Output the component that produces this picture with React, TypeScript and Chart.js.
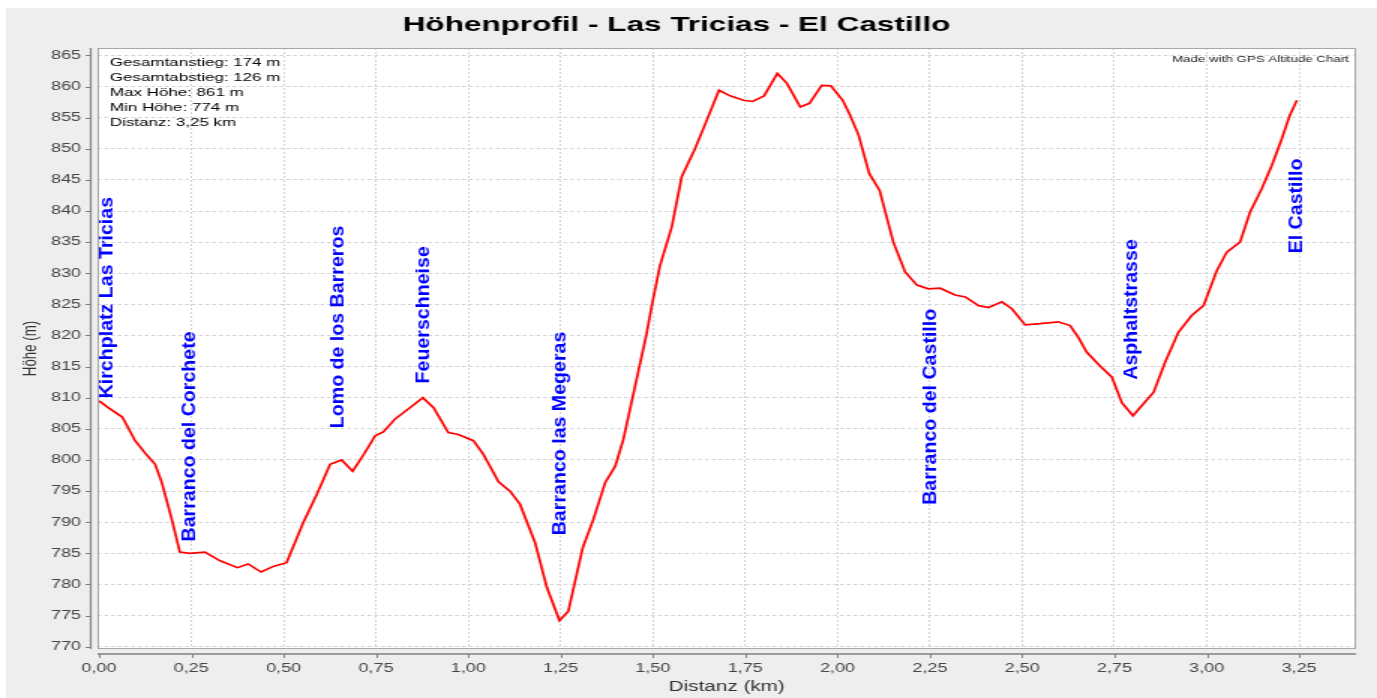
import React, { useEffect, useRef } from 'react';
import { Chart, registerables } from 'chart.js';

Chart.register(...registerables);

// ---------- data ----------
const distancesKm = [
  0.000, 0.025, 0.063, 0.098, 0.125, 0.152, 0.170, 0.197, 0.219, 0.246,
  0.287, 0.328, 0.375, 0.404, 0.439, 0.472, 0.508, 0.553, 0.590, 0.626,
  0.657, 0.687, 0.716, 0.748, 0.770, 0.802, 0.842, 0.877, 0.906, 0.946,
  0.973, 1.014, 1.041, 1.082, 1.113, 1.140, 1.181, 1.213, 1.247, 1.271,
  1.310, 1.339, 1.371, 1.398, 1.420, 1.456, 1.482, 1.497, 1.519, 1.551,
  1.578, 1.614, 1.646, 1.679, 1.709, 1.745, 1.770, 1.801, 1.837, 1.863,
  1.899, 1.924, 1.957, 1.982, 2.014, 2.034, 2.057, 2.086, 2.114, 2.151,
  2.183, 2.215, 2.246, 2.278, 2.318, 2.346, 2.382, 2.409, 2.445, 2.472,
  2.508, 2.549, 2.598, 2.630, 2.652, 2.675, 2.711, 2.743, 2.770, 2.800,
  2.856, 2.887, 2.923, 2.959, 2.991, 3.027, 3.054, 3.090, 3.117, 3.149,
  3.176, 3.203, 3.225, 3.244,
];

const altitudesM = [
  809.5, 808.4, 806.9, 803.1, 801.1, 799.3, 796.4, 790.5, 785.2, 785.0,
  785.2, 783.8, 782.7, 783.3, 782.0, 782.9, 783.5, 789.9, 794.5, 799.3,
  800.0, 798.2, 800.8, 803.9, 804.5, 806.6, 808.4, 810.0, 808.4, 804.4,
  804.1, 803.1, 800.9, 796.5, 795.0, 792.9, 786.7, 779.5, 774.2, 775.7,
  785.9, 790.5, 796.4, 799.0, 803.3, 813.0, 820.0, 824.8, 831.2, 837.4,
  845.5, 850.0, 854.6, 859.4, 858.5, 857.8, 857.6, 858.5, 862.1, 860.5,
  856.7, 857.3, 860.2, 860.1, 857.8, 855.4, 852.2, 846.0, 843.3, 835.0,
  830.2, 828.1, 827.5, 827.6, 826.5, 826.2, 824.8, 824.5, 825.4, 824.3,
  821.7, 821.9, 822.2, 821.6, 819.7, 817.3, 815.1, 813.3, 809.2, 807.1,
  810.9, 815.7, 820.5, 823.2, 824.8, 830.4, 833.4, 835.0, 839.8, 843.6,
  847.3, 851.6, 855.4, 857.8,
];

const xTickValues = [0, 0.25, 0.5, 0.75, 1, 1.25, 1.5, 1.75, 2, 2.25, 2.5, 2.75, 3, 3.25];
const yTickValues = [770, 775, 780, 785, 790, 795, 800, 805, 810, 815, 820, 825, 830, 835, 840, 845, 850, 855, 860, 865];

const waypointNames = [
  'Kirchplatz Las Tricias',
  'Barranco del Corchete',
  'Lomo de los Barreros',
  'Feuerschneise',
  'Barranco las Megeras',
  'Barranco del Castillo',
  'Asphaltstrasse',
  'El Castillo',
];
const waypointKm = [0.0, 0.246, 0.646, 0.88, 1.249, 2.253, 2.795, 3.245];
const waypointLabelBaseM = [809.9, 786.9, 805.1, 812.3, 787.9, 792.8, 812.9, 833.2];

const statsLines = [
  'Gesamtanstieg: 174 m',
  'Gesamtabstieg: 126 m',
  'Max Höhe: 861 m',
  'Min Höhe: 774 m',
  'Distanz: 3,25 km',
];

const chartTitle = 'Höhenprofil - Las Tricias - El Castillo';
const creditText = 'Made with GPS Altitude Chart';
const xAxisTitle = 'Distanz (km)';
const yAxisTitle = 'Höhe (m)';

// ---------- layout ----------
const STRETCH = 1.5;
const CSS_W = 1371;
const CSS_H = 690;
const BMP_W = Math.round(CSS_W / STRETCH);
const FONT = '"Liberation Sans", Arial, Helvetica, sans-serif';
const GRID_COLOR = '#d2d2d2';

const decorPlugin = {
  id: 'decor',
  beforeDraw(chart: any) {
    const { ctx, chartArea: a, width, height } = chart;
    ctx.save();
    ctx.fillStyle = '#eeeeee';
    ctx.fillRect(0, 0, width, height);
    ctx.fillStyle = '#ffffff';
    ctx.fillRect(a.left, a.top, a.right - a.left, a.bottom - a.top);
    ctx.restore();
  },
  afterDraw(chart: any) {
    const { ctx, chartArea: a, scales } = chart;
    const xs = scales.x;
    const ys = scales.y;
    ctx.save();

    // plot outline
    ctx.strokeStyle = '#a8a8a8';
    ctx.lineWidth = 1;
    ctx.setLineDash([]);
    ctx.strokeRect(a.left + 0.5, a.top + 0.5, a.right - a.left - 1, a.bottom - a.top - 1);

    // offset y axis line + ticks
    const yAxisX = a.left - 4.5;
    ctx.strokeStyle = '#808080';
    ctx.lineWidth = 1.2;
    ctx.beginPath();
    ctx.moveTo(yAxisX, a.top);
    ctx.lineTo(yAxisX, a.bottom);
    ctx.stroke();
    ctx.lineWidth = 1;
    ctx.beginPath();
    yTickValues.forEach((v) => {
      const py = Math.round(ys.getPixelForValue(v)) + 0.5;
      ctx.moveTo(yAxisX - 3.5, py);
      ctx.lineTo(yAxisX, py);
    });
    ctx.stroke();

    // offset x axis line + ticks
    const xAxisY = a.bottom + 5;
    ctx.lineWidth = 1.5;
    ctx.beginPath();
    ctx.moveTo(a.left, xAxisY);
    ctx.lineTo(a.right, xAxisY);
    ctx.stroke();
    ctx.lineWidth = 1;
    ctx.beginPath();
    xTickValues.forEach((v) => {
      const px = Math.round(xs.getPixelForValue(v)) + 0.5;
      ctx.moveTo(px, xAxisY);
      ctx.lineTo(px, xAxisY + 4);
    });
    ctx.stroke();

    // title
    ctx.fillStyle = '#000000';
    ctx.font = `bold 21px ${FONT}`;
    ctx.textAlign = 'center';
    ctx.textBaseline = 'alphabetic';
    ctx.fillText(chartTitle, 447, 22.9);

    // stats box
    ctx.font = `11.3px ${FONT}`;
    ctx.textAlign = 'left';
    statsLines.forEach((line, i) => {
      ctx.fillText(line, a.left + 8.3, a.top + 17.5 + i * 15.2);
    });

    // credit
    ctx.fillStyle = '#222222';
    ctx.font = `8.9px ${FONT}`;
    ctx.textAlign = 'right';
    ctx.fillText(creditText, a.right - 4.7, a.top + 13.5);

    // waypoint labels (drawn un-stretched, vertical)
    ctx.fillStyle = '#0000ff';
    ctx.font = `bold 19.6px ${FONT}`;
    ctx.textAlign = 'left';
    ctx.textBaseline = 'middle';
    waypointNames.forEach((name, i) => {
      let px = xs.getPixelForValue(waypointKm[i]);
      px = Math.max(px, a.left + 6.5);
      const py = ys.getPixelForValue(waypointLabelBaseM[i]);
      ctx.save();
      ctx.translate(px, py);
      ctx.scale(1 / STRETCH, 1);
      ctx.rotate(-Math.PI / 2);
      ctx.fillText(name, 0, 0);
      ctx.restore();
    });

    ctx.restore();
  },
};

export default function App() {
  const ref = useRef<HTMLCanvasElement>(null);

  useEffect(() => {
    const canvas = ref.current;
    if (!canvas) return;
    const points = distancesKm.map((d, i) => ({ x: d, y: altitudesM[i] }));

    const chart = new Chart(canvas, {
      type: 'line',
      data: {
        datasets: [
          {
            label: 'Höhe',
            data: points,
            borderColor: '#ff0000',
            borderWidth: 1.7,
            pointRadius: 0,
            tension: 0,
            fill: false,
          },
        ],
      },
      options: {
        responsive: false,
        maintainAspectRatio: false,
        devicePixelRatio: 1,
        animation: false,
        layout: { padding: { top: 40, right: 14, left: 0, bottom: 0 } },
        plugins: {
          legend: { display: false },
          tooltip: { enabled: false },
          title: { display: false },
        },
        scales: {
          x: {
            type: 'linear',
            min: -0.004,
            max: 3.404,
            afterBuildTicks: (scale: any) => {
              scale.ticks = xTickValues.map((v) => ({ value: v }));
            },
            afterFit: (scale: any) => {
              scale.height = 49;
            },
            ticks: {
              autoSkip: false,
              maxRotation: 0,
              padding: 12,
              color: '#444444',
              font: { family: FONT, size: 12 },
              callback: (v: any) => Number(v).toFixed(2).replace('.', ','),
            },
            grid: { color: GRID_COLOR, lineWidth: 1, drawTicks: false },
            border: { display: false, dash: [2, 2] },
            title: {
              display: true,
              text: xAxisTitle,
              color: '#333333',
              font: { family: FONT, size: 13.8 },
              padding: { top: 0, bottom: 2.7 },
            },
          },
          y: {
            type: 'linear',
            min: 769.63,
            max: 866.19,
            afterBuildTicks: (scale: any) => {
              scale.ticks = yTickValues.map((v) => ({ value: v }));
            },
            afterFit: (scale: any) => {
              scale.width = 61;
            },
            ticks: {
              autoSkip: false,
              padding: 11,
              color: '#444444',
              font: { family: FONT, size: 12 },
              callback: (v: any) => String(v),
            },
            grid: { color: GRID_COLOR, lineWidth: 1, drawTicks: false },
            border: { display: false, dash: [2.5, 2] },
            title: {
              display: true,
              text: yAxisTitle,
              color: '#333333',
              font: { family: FONT, size: 13.3 },
              padding: { top: 8, bottom: 0 },
            },
          },
        },
      },
      plugins: [decorPlugin],
    } as any);

    return () => chart.destroy();
  }, []);

  return (
    <div
      style={{
        position: 'fixed',
        left: 0,
        top: 0,
        width: 1377,
        height: 698,
        background: '#ffffff',
        overflow: 'hidden',
      }}
    >
      <canvas
        ref={ref}
        width={BMP_W}
        height={CSS_H}
        style={{ position: 'absolute', left: 6, top: 8, width: CSS_W, height: CSS_H }}
      />
    </div>
  );
}
